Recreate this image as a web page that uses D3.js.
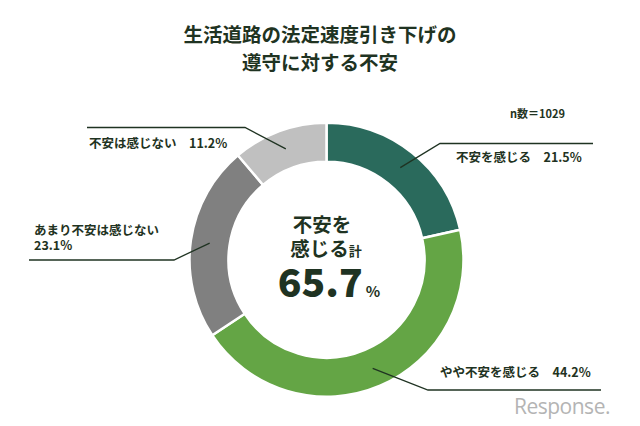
<!DOCTYPE html>
<html><head><meta charset="utf-8">
<script src="https://cdn.jsdelivr.net/npm/d3@7"></script>
<style>
html,body{margin:0;padding:0;background:#fff;}
svg{display:block;font-family:"Noto Sans CJK JP","Noto Sans",sans-serif;}
</style></head>
<body>
<svg id="c" width="640" height="426"></svg>
<script>
const categories = ["不安を感じる", "やや不安を感じる", "あまり不安は感じない", "不安は感じない"];
const values = [21.5, 44.2, 23.1, 11.2];
const colors = ["#2a6a5c", "#64a545", "#808080", "#c0c0c0"];
const titleLines = ["生活道路の法定速度引き下げの", "遵守に対する不安"];
const sampleLabel = "n数＝1029";
const totalLabel = "65.7";

const svg = d3.select("#c");
const ink = "#1f3322";
const cx = 326.5, cy = 259.7, rO = 137, rI = 98;

svg.selectAll("text.title").data(titleLines).join("text")
  .attr("class","title").attr("x",320).attr("y",(d,i)=>42+i*28)
  .attr("text-anchor","middle").attr("font-size",19.5).attr("font-weight",700)
  .attr("fill",ink).text(d=>d);

svg.append("text").attr("x",510).attr("y",118).attr("font-size",11).attr("font-weight",700)
  .attr("fill",ink).text(sampleLabel);

const pie = d3.pie().sort(null).value(d=>d);
const arcs = pie(values);
const arc = d3.arc().innerRadius(rI).outerRadius(rO);
const g = svg.append("g").attr("transform",`translate(${cx},${cy})`);
g.selectAll("path").data(arcs).join("path")
  .attr("d",arc).attr("fill",(d,i)=>colors[i])
  .attr("stroke","#fff").attr("stroke-width",2.5);

const layouts = [
  {bend:[440,143.5], end:[593,143.5], tx:456, ty:162, lines:["不安を感じる　21.5%"]},
  {bend:[428,390], end:[601,390], tx:440, ty:377, lines:["やや不安を感じる　44.2%"]},
  {bend:[174,260], end:[29,260], tx:34, ty:234.5, lines:["あまり不安は感じない","23.1%"]},
  {bend:[245,127.5], end:[87,127.5], tx:89, ty:148, lines:["不安は感じない　11.2%"]}
];
const startR = 118;
arcs.forEach((a,i)=>{
  const ang = (a.startAngle+a.endAngle)/2;
  const sx = cx + startR*Math.sin(ang), sy = cy - startR*Math.cos(ang);
  const L = layouts[i];
  svg.append("polyline").attr("points",[[sx,sy],L.bend,L.end].map(p=>p.join(",")).join(" "))
    .attr("fill","none").attr("stroke",ink).attr("stroke-width",1.3);
  L.lines.forEach((t,j)=>{
    svg.append("text").attr("x",L.tx).attr("y",L.ty+j*15).attr("font-size",12.5)
      .attr("font-weight",700).attr("fill",ink).attr("xml:space","preserve").text(t);
  });
});

svg.append("text").attr("x",322).attr("y",231.5).attr("text-anchor","middle")
  .attr("font-size",19.5).attr("font-weight",700).attr("fill",ink).text("不安を");
const t2 = svg.append("text").attr("x",326).attr("y",256).attr("text-anchor","middle")
  .attr("font-weight",700).attr("fill",ink);
t2.append("tspan").attr("font-size",19.5).text("感じる");
t2.append("tspan").attr("font-size",13).text("計");
const t3 = svg.append("text").attr("x",329).attr("y",297).attr("text-anchor","middle")
  .attr("font-weight",900).attr("fill",ink);
t3.append("tspan").attr("font-size",39).text(totalLabel);
t3.append("tspan").attr("font-size",15).attr("font-weight",700).attr("dx",3).text("%");

svg.append("text").attr("x",514).attr("y",414).attr("font-size",21)
  .attr("font-family","'Open Sans','DejaVu Sans',sans-serif").attr("fill","#b4b4b4")
  .attr("letter-spacing",-0.5).text("Response.");
</script>
</body></html>
